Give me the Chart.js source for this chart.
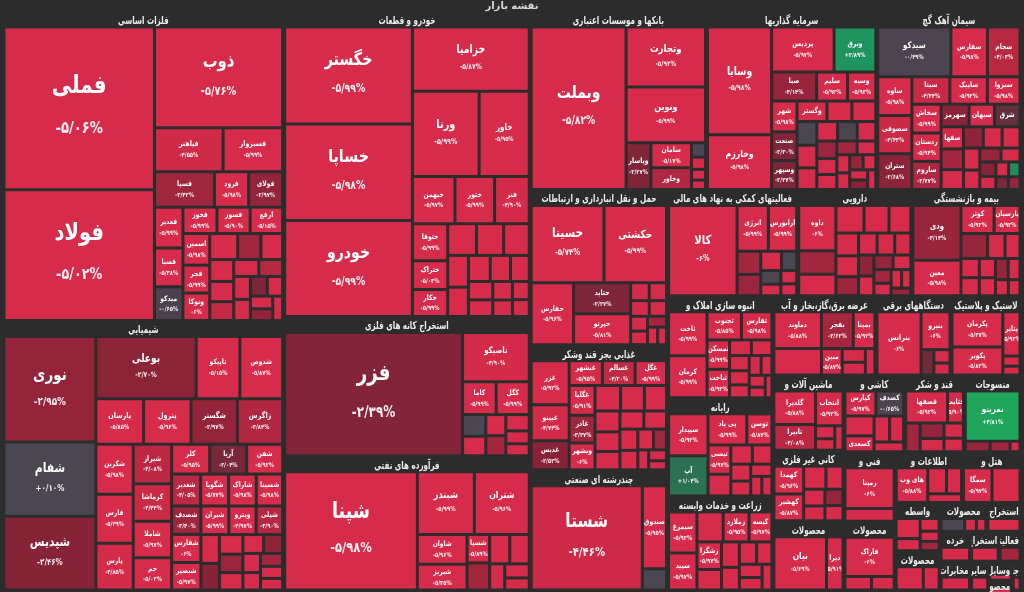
<!DOCTYPE html>
<html lang="fa">
<head>
<meta charset="utf-8">
<title>نقشه بازار</title>
<script src="https://cdn.jsdelivr.net/npm/chart.js@4.4.1/dist/chart.umd.min.js"></script>
<style>
  html, body { margin: 0; padding: 0; background: #2c2c2c; }
  canvas { display: block; }
</style>
</head>
<body>
<canvas id="marketMap" width="1024" height="592"></canvas>
<script>
// industries, sized by market value
const sectorNames = [
  'فلزات اساسی', 'شیمیایی', 'خودرو و قطعات', 'استخراج کانه های فلزی', 'فرآورده های نفتی',
  'بانکها و موسسات اعتباری', 'سرمایه گذاریها', 'سیمان آهک گچ', 'حمل و نقل انبارداری و ارتباطات',
  'غذایی بجز قند وشکر', 'چندرشته ای صنعتی', 'فعالیتهای کمکی به نهاد های مالی', 'دارویی',
  'بیمه و بازنشستگی', 'انبوه سازی املاک و مستغلات', 'رایانه', 'زراعت و خدمات وابسته',
  'عرضه برق،گاز،بخار و آب', 'دستگاههای برقی', 'لاستیک و پلاستیک', 'ماشین آلات و تجهیزات',
  'کانی غیر فلزی', 'محصولات', 'کاشی و سرامیک', 'قند و شکر', 'منسوجات', 'فنی و مهندسی',
  'محصولات', 'اطلاعات و ارتباطات', 'هتل و رستوران', 'واسطه گریهای مالی', 'محصولات',
  'محصولات', 'استخراج نفت گاز', 'خرده فروشی', 'مخابرات', 'استخراج زغال سنگ',
  'فعالیتهای هنری', 'سایر', 'وسایل ارتباطی', 'محصولات', 'جانبی'
];
const sectorValues = [
  86520, 75320, 75030, 34194, 32964, 31328, 30260, 25632, 21235, 17125, 16440, 13780, 12084,
  11554, 10710, 10290, 9870, 8137, 5925, 5530, 5320, 5000, 4900, 4636, 4560, 4332, 3550, 3500,
  3400, 2950, 2156, 1760, 1344, 980, 900, 880, 850, 650, 520, 380, 300, 250
];

// stocks of each industry: symbol, size and daily change (%)
const stockNames = [
  ['فملی','فولاد','ذوب','فیاهنر','فسبزوار','فسپا','فرود','فولای','فغدیر','فصبا','میدکو','فخوز','فسوز','ارفع','اسمین','فجر','ونوکا','','','','','','','','','','','','','','',''],
  ['نوری','شفام','شپدیس','بوعلی','تاپیکو','شدوص','پارسان','پترول','شگستر','زاگرس','شکربن','فارس','پارس','شیراز','کرماشا','شاملا','جم','کلر','آریا','شفن','شغدیر','شگویا','شاراک','شسینا','شصدف','شفارس','شبصیر','شیران','ویترو','شپلی','','','','','','','','','','','',''],
  ['خگستر','خساپا','خودرو','خزامیا','ورنا','خاور','خبهمن','ختور','فنر','ختوقا','ختراک','خکار','','','','','','','','','','','','','',''],
  ['فزر','تاصیکو','کاما','کگل','','','','','','',''],
  ['شپنا','شبندر','شتران','شاوان','شبریز','شسپا','','','','','',''],
  ['وبملت','وتجارت','ونوین','وپاسار','سامان','وخاور','','','',''],
  ['وسایا','وخارزم','پردیس','وبرق','صبا','سلیم','وسیه','شهر','صنعت','وسپهر','وگستر','','','','','','','','','','','','','','','','','','','',''],
  ['سیدکو','سفارس','سجام','ساوه','سصوفی','ستران','سیتا','ساپیک','سبزوا','سخاش','ردستان','ساروم','سهرمز','سبهان','شرق','صفها','','','','','','','','','','','','','','',''],
  ['حسینا','حکشتی','حفارس','حتاید','حپرتو','','','','','','','','',''],
  ['غزر','غبینو','غدیس','غبشهر','غسالم','غگل','غگلپا','غاذر','ویشهر','','','','','','','','','','','','','','',''],
  ['شستا','صندوق',''],
  ['کالا','انرژی','ارابورس','','','','','','','',''],
  ['داوه','','','','','','','','','','','','','','','','','','','',''],
  ['ودی','معین','کوثر','پارسیان','','','','','','','','','','',''],
  ['ثاخت','کرمان','ثجنوب','ثفارس','ثمسکن','ثباخت','','','','','','','','','',''],
  ['سپیدار','آپ','پی پاد','توسن','تیسی','','','','','','','',''],
  ['سیمرغ','سپید','','زملارد','کیسه','زشگزا','','','','','','','',''],
  ['دماوند','','بفجر','بمپنا','مبین','','',''],
  ['بترانس','بنیرو','','',''],
  ['پکرمان','پکویر','پتایر','',''],
  ['گلدیرا','تابیرا','انتخاب','','',''],
  ['کهمدا','کهشیر','','','','','',''],
  ['نیان','دیرا'],
  ['کپارس','کصدف','','کسعدی','','',''],
  ['قصفها','قثابت','','','','',''],
  ['نمرینو','','',''],
  ['رمپنا',''],
  ['فاراک','',''],
  ['های وب','','',''],
  ['سمگا',''],
  ['','','','',''],
  ['',''],
  ['','',''],
  [''], [''], [''], [''], [''], [''], [''], [''], ['']
];
const stockValues = [
  [24300,19500,12800,3000,2600,2100,1200,1190,1150,1100,950,890,870,850,840,740,730,720,600,560,520,480,450,420,400,380,350,330,300,280,260,240],
  [9450,6650,6600,6100,2650,2600,2112,2100,2050,2000,1824,1786,1710,1482,1404,1365,1209,1110,1080,1050,900,870,860,820,810,800,785,779,760,740,520,480,450,420,400,380,350,330,300,280,260,250],
  [12200,12150,12100,7400,5600,4200,1978,1840,1610,1290,1000,940,900,850,800,650,600,560,520,480,440,400,360,320,300,280],
  [21824,3264,1100,1080,500,450,420,400,380,300,280],
  [15900,3618,3484,1500,1300,650,620,600,580,400,350,300],
  [15322,4740,4400,1150,1010,870,200,170,150,130],
  [6480,3300,2646,1764,1225,840,770,735,690,688,575,480,460,440,420,400,380,360,340,330,300,280,260,240,220,200,190,180,170,160,150],
  [3456,1728,1536,1248,1240,1152,990,980,850,800,790,780,598,546,545,468,440,420,400,380,360,340,300,280,250,220,200,180,160,150,140],
  [5400,4650,2520,1705,1690,320,300,280,260,240,220,200,170,150],
  [1540,1260,1015,760,750,720,710,660,640,600,560,520,480,450,420,400,380,350,320,300,250,200,180,150],
  [11330,1968,504],
  [5874,1364,1232,520,480,380,280,260,220,200,180],
  [1564,816,740,720,640,560,480,440,400,380,360,330,300,280,260,240,220,200,180,160,140],
  [2538,1645,896,700,640,420,360,340,320,300,280,260,240,200,180],
  [1591,1517,910,806,620,600,320,300,280,260,240,220,200,180,160,140],
  [1680,1600,1221,792,676,500,420,380,340,300,260,220,200],
  [1152,1044,780,770,680,670,500,450,400,380,340,300,280,250],
  [1656,1196,1116,756,520,300,280,240],
  [2583,1015,300,200,180],
  [1645,1316,700,160,140],
  [1394,1066,952,250,220,200],
  [840,810,520,400,360,320,300,280],
  [2805,880],
  [800,720,600,480,420,380,300],
  [1280,480,400,350,300,280,250],
  [2592,250,200,100],
  [1886,600],
  [1886,350,300],
  [1120,500,400,300],
  [1008,990],
  [500,300,250,200,180],
  [600,350],
  [500,250,200],
  [450], [400], [380], [350], [250], [200], [150], [120], [100]
];
const stockChanges = [
  [-5.06,-5.02,-5.76,-4.55,-5.99,-3.42,-5.98,-2.97,-5.99,-5.38,-0.65,-5.99,-5.9,-5.15,-5.98,-5.99,-6,-5.9,-3.4,-5.9,-5.8,-5.9,-4.2,-5.9,-3.9,-5.9,-5.7,-2.2,-5.9,-5.9,-2.9,-5.9],
  [-2.95,0.10,-2.46,-2.70,-5.15,-5.87,-5.85,-5.96,-2.97,-3.84,-5.98,-5.39,-4.85,-4.08,-4.44,-5.97,-5.03,-5.95,-2.04,-5.92,-4.05,-5.77,-5.98,-5.98,-3.40,-6,-5.97,-5.99,-4.97,-3.90,-5.9,-2.5,-5.9,-3.2,-5.9,-5.9,-2.8,-5.9,-5.9,-3.5,-5.9,-5.9],
  [-5.99,-5.98,-5.99,-5.87,-5.99,-5.95,-5.97,-5.99,-4.9,-5.99,-5.03,-5.99,-5.9,-5.8,-5.9,-5.9,-5.7,-5.9,-5.9,-5.6,-5.9,-5.9,-5.9,-5.8,-5.9,-5.9],
  [-2.39,-4.9,-5.99,-5.99,0,-5.9,-5.9,-3.5,-5.9,-5.9,-5.9],
  [-5.98,-5.99,-5.96,-5.96,-5.35,-5.89,-3.5,-5.9,-5.9,-5.9,-5.9,-5.9],
  [-5.82,-5.92,-5.99,-2.27,-5.17,-3.80,0,-5.9,-5.9,-5.9],
  [-5.98,-5.98,-5.97,2.89,-3.14,-5.92,-5.93,-5.98,-2.30,-2.27,-5.87,-5.9,-5.9,0,-5.9,-5.9,-5.9,-0.3,-5.9,-3.2,-5.9,-5.9,-3.5,-5.9,-5.9,-5.9,-3,-5.9,-5.9,-2.5,-5.9],
  [-0.49,-5.98,-4.03,-5.98,-4.43,-2.68,-4.34,-5.93,-5.98,-5.99,-5.94,-3.77,-2.65,-5.92,-1.44,-5.98,-3.5,-5.9,-2.8,-5.9,-5.9,-5.9,-5.9,-3,-5.9,-2.5,-5.9,-5.9,2.5,-2,-3],
  [-5.74,-5.99,-5.96,-2.27,-5.81,-5.9,-5.9,-5.9,-5.9,-5.9,-5.9,-3.5,-5.9,-5.9],
  [-5.92,-4.74,-2.52,-5.95,-4.20,-5.99,-5.91,-3.37,-6,-5.9,-5.9,-5.9,-5.9,-5.9,-5.9,-5.9,-5.9,-5.9,-5.9,-5.9,-3.5,-5.9,-5.9,-5.9],
  [-4.46,-5.95,0],
  [-6,-5.99,-5.99,-3.5,-3.2,-5.9,0,0,-5.9,-5.9,-5.9],
  [-6,-3.5,-5.9,-5.9,-5.9,-5.9,-5.9,-5.9,-3.3,-5.9,-5.9,-5.9,-2.8,-5.9,-3,-5.9,-3.5,-5.9,-5.9,-5.9,-3],
  [-3.14,-5.98,-5.92,-5.92,-3,-5.9,-5.9,-5.9,-5.9,-5.9,-5.9,-3,-5.9,-5.9,-5.9],
  [-5.99,-5.99,-5.85,-5.98,-5.99,-5.93,-5.9,-5.9,-5.9,-5.9,-5.9,-5.9,-5.9,-5.9,-5.9,-5.9],
  [-5.92,1.04,-5.99,-5.87,-5.97,-5.9,-5.9,-5.9,-5.9,-5.9,-5.9,-5.9,-5.9],
  [-5.92,-5.97,-5.9,-5.95,-5.97,-5.97,-5.9,-5.9,-5.9,-5.9,-5.9,-5.9,-5.9,-5.9],
  [-5.88,-5.9,-3.62,-5.92,-5.87,-5.9,-5.9,-5.9],
  [-6,-6,-1.8,-5.9,-5.9],
  [-5.37,-5.82,-5.92,-5.9,-5.9],
  [-5.88,-4.08,-5.92,-5.9,-5.9,-5.9],
  [-5.96,-5.87,-5.9,-5.9,-5.9,-5.9,-3,-5.9],
  [-5.69,-5.91],
  [-5.97,-0.65,-5.9,-5.94,-5.9,-5.9,-5.9],
  [-5.92,-5.9,-3.5,-3,-5.9,-5.9,-5.9],
  [4.81,-3,-3.5,-5.9],
  [-6,-5.9],
  [-6,-5.9,-5.9],
  [-5.88,-5.9,-5.9,-5.9],
  [-5.97,-5.9],
  [-5.9,-5.9,-5.9,-5.9,-3.5],
  [-5.9,-5.9],
  [0,-5.9,-5.9],
  [-5.9], [-5.9], [-5.9], [-5.9], [-3.5], [-5.9], [-5.9], [-5.9], [-5.9]
];

// industries whose first strip runs down the left side
const verticalStart = ['فلزات اساسی', 'خودرو و قطعات'];

const FONT = '"DejaVu Sans", sans-serif';
const HEADER = 14;
const SQUEEZE = 0.8;        // DejaVu's Arabic is wider than the original face
const HEAD_SQUEEZE = 0.65;

// squarified treemap (strips along the shorter side, aspect target 1)
function squarify(values, x0, y0, x1, y1, startVertical) {
  const order = values.map((v, i) => i).sort((a, b) => values[b] - values[a]);
  const rects = [];
  let rest = order.reduce((s, i) => s + values[i], 0);
  let k = 0;
  let first = true;
  while (k < order.length) {
    const dx = x1 - x0, dy = y1 - y0;
    const column = (first && startVertical) ? true : dx >= dy;
    first = false;
    const along = column ? dy : dx;
    const across = column ? dx : dy;
    const worst = (sum, min, max) => {
      const t = across * sum / rest;
      const a = along * max / sum, b = along * min / sum;
      return Math.max(t / b, b / t, t / a, a / t);
    };
    let sum = values[order[k]], min = sum, max = sum;
    let best = worst(sum, min, max);
    let end = k + 1;
    while (end < order.length) {
      const v = values[order[end]];
      const r = worst(sum + v, Math.min(min, v), Math.max(max, v));
      if (r > best) break;
      sum += v; min = Math.min(min, v); max = Math.max(max, v); best = r; end++;
    }
    const t = across * sum / rest;
    let pos = column ? y0 : x0;
    for (let j = k; j < end; j++) {
      const len = along * values[order[j]] / sum;
      rects[order[j]] = column
        ? { x0: x0, x1: x0 + t, y0: pos, y1: pos + len }
        : { x0: pos, x1: pos + len, y0: y0, y1: y0 + t };
      pos += len;
    }
    if (column) x0 += t; else y0 += t;
    rest -= sum;
    k = end;
  }
  return rects;
}

function shrink(r, p) {
  return { x0: r.x0 + p, y0: r.y0 + p, x1: r.x1 - p, y1: r.y1 - p };
}

const negStops = [[0,[74,71,83]],[0.7,[78,64,79]],[1.5,[104,46,63]],[2.5,[135,35,55]],[3.5,[162,38,62]],[4.5,[206,42,72]],[5,[214,43,75]]];
const posStops = [[0,[74,71,83]],[0.2,[74,71,83]],[1,[44,112,82]],[3,[30,150,95]],[5,[32,168,92]]];
function mix(stops, v) {
  for (let i = 1; i < stops.length; i++) {
    if (v <= stops[i][0]) {
      const [a, ca] = stops[i - 1], [b, cb] = stops[i];
      const t = (v - a) / (b - a);
      return 'rgb(' + ca.map((c, n) => Math.round(c + (cb[n] - c) * t)).join(',') + ')';
    }
  }
  return 'rgb(' + stops[stops.length - 1][1].join(',') + ')';
}
function colorFor(ch) { return ch < 0 ? mix(negStops, -ch) : mix(posStops, ch); }

const faDigits = '۰۱۲۳۴۵۶۷۸۹';
function pctText(c) {
  let s = Math.abs(c).toFixed(2).replace(/\.00$/, '').replace('.', '/');
  s = s.replace(/\d/g, d => faDigits[d]);
  return (c > 0 ? '+' : c < 0 ? '-' : '') + s + '%';
}

// layout in data units; the chart scales turn it into pixels
const sectorRects = squarify(sectorValues, 3, 12, 1021, 591, false).map(r => shrink(r, 1));
const cells = [];
sectorRects.forEach((box, s) => {
  const inner = squarify(stockValues[s], box.x0, box.y0 + HEADER, box.x1, box.y1,
                         verticalStart.includes(sectorNames[s]));
  inner.forEach((r, i) => {
    cells.push(Object.assign(shrink(r, 1.5), {
      name: stockNames[s][i],
      change: stockChanges[s][i],
      color: colorFor(stockChanges[s][i])
    }));
  });
});

// a small controller that draws each cell as a Chart.js bar element
class CellController extends Chart.DatasetController {
  static id = 'treemapCells';
  static defaults = { datasetElementType: false, dataElementType: 'bar' };
  parse() {}
  update(mode) {
    const meta = this._cachedMeta;
    this.updateElements(meta.data, 0, meta.data.length, mode);
  }
  updateElements(elements, start, count) {
    const { xScale, yScale } = this._cachedMeta;
    const data = this.getDataset().data;
    for (let i = start; i < start + count; i++) {
      const d = data[i];
      const left = xScale.getPixelForValue(d.x0), right = xScale.getPixelForValue(d.x1);
      const top = yScale.getPixelForValue(d.y0), bottom = yScale.getPixelForValue(d.y1);
      Object.assign(elements[i], {
        x: (left + right) / 2, y: Math.min(top, bottom), base: Math.max(top, bottom),
        width: Math.abs(right - left), height: Math.abs(bottom - top), horizontal: false,
        borderSkipped: {}, inflateAmount: 0, enableBorderRadius: false,
        options: { backgroundColor: d.color, borderColor: d.color, borderWidth: 0, borderRadius: 0 }
      });
    }
  }
}
Chart.register(CellController);

// text drawn a little narrower than the font's natural width
function squeezedText(ctx, text, x, y, sx) {
  ctx.save();
  ctx.translate(x, y);
  ctx.scale(sx, 1);
  ctx.fillText(text, 0, 0);
  ctx.restore();
}

const labelPlugin = {
  id: 'mapLabels',
  afterDatasetsDraw(chart) {
    const ctx = chart.ctx;
    const xs = chart.scales.x, ys = chart.scales.y;
    ctx.save();
    ctx.textAlign = 'center';
    ctx.textBaseline = 'middle';

    // industry titles: as many words as fit on one line
    sectorRects.forEach((r, s) => {
      const left = xs.getPixelForValue(r.x0), right = xs.getPixelForValue(r.x1);
      const top = ys.getPixelForValue(r.y0);
      const w = right - left;
      ctx.font = 'bold 11px ' + FONT;
      ctx.direction = 'rtl';
      ctx.fillStyle = '#ededed';
      const fits = t => ctx.measureText(t).width * HEAD_SQUEEZE <= w - 2;
      const words = sectorNames[s].split(' ');
      let line = words[0];
      for (let n = 1; n < words.length; n++) {
        const test = line + ' ' + words[n];
        if (!fits(test)) break;
        line = test;
      }
      ctx.save();
      ctx.beginPath();
      ctx.rect(left, top, w, HEADER);
      ctx.clip();
      if (!fits(line)) {
        ctx.textAlign = 'right';
        squeezedText(ctx, line, right - 1, top + HEADER / 2 + 1, HEAD_SQUEEZE);
      } else {
        squeezedText(ctx, line, (left + right) / 2, top + HEADER / 2 + 1, HEAD_SQUEEZE);
      }
      ctx.restore();
    });

    // stock symbol and change
    const meta = chart.getDatasetMeta(0);
    const items = chart.data.datasets[0].data;
    meta.data.forEach((el, i) => {
      const d = items[i];
      if (!d.name) return;
      const w = el.width, h = el.base - el.y;
      let f = Math.max(7.5, Math.min(25, 0.19 * Math.min(w, h)));
      ctx.font = 'bold ' + f + 'px ' + FONT;
      const tw = ctx.measureText(d.name).width * SQUEEZE;
      if (tw > w - 5 && f > 7.5) {
        f = Math.max(7.5, f * (w - 5) / tw);
        ctx.font = 'bold ' + f + 'px ' + FONT;
      }
      const pf = Math.max(6.5, f * 0.66);
      const cy = (el.y + el.base) / 2;
      const showPct = h >= 20;
      ctx.save();
      ctx.beginPath();
      ctx.rect(el.x - w / 2, el.y, w, h);
      ctx.clip();
      ctx.fillStyle = '#ffffff';
      ctx.direction = 'rtl';
      squeezedText(ctx, d.name, el.x, showPct ? cy - (0.95 * f - 2) : cy, SQUEEZE);
      if (showPct) {
        ctx.font = 'bold ' + pf + 'px ' + FONT;
        ctx.direction = 'ltr';
        ctx.fillStyle = 'rgba(255,255,255,0.92)';
        squeezedText(ctx, pctText(d.change), el.x, cy + (1.5 * pf - 4), SQUEEZE);
      }
      ctx.restore();
    });
    ctx.restore();
  }
};

new Chart(document.getElementById('marketMap'), {
  type: 'treemapCells',
  data: { datasets: [{ data: cells }] },
  options: {
    responsive: false,
    animation: false,
    events: [],
    layout: { padding: 0 },
    scales: {
      x: { type: 'linear', min: 0, max: 1024, display: false },
      y: { type: 'linear', min: 12, max: 592, reverse: true, display: false }
    },
    plugins: {
      legend: { display: false },
      tooltip: { enabled: false },
      title: {
        display: true,
        text: 'نقشه بازار',
        color: '#d9d9d9',
        font: { family: FONT, size: 10, weight: 'bold', lineHeight: 1.2 },
        padding: 0
      }
    }
  },
  plugins: [labelPlugin]
});
</script>
</body>
</html>
